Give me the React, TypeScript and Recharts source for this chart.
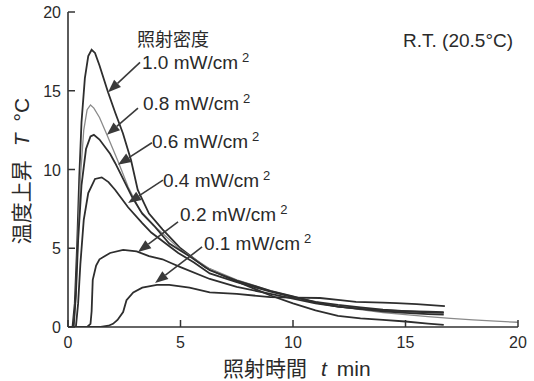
import React from "react";
import {
  LineChart,
  Line,
  XAxis,
  YAxis,
  ReferenceLine,
  ReferenceDot,
  Label,
} from "recharts";

// ---- data (t: min, T: °C) ----
const t10 = [0, 0.2, 0.3, 0.4, 0.5, 0.6, 0.75, 0.9, 1.05, 1.2, 1.4, 1.78, 2.1, 2.44, 2.8, 3.1, 3.6, 4.2, 5, 6.1, 7, 8, 9, 10, 11, 12, 13, 14, 15, 16, 16.7];
const T10 = [0, 0, 1.5, 5, 9.5, 13, 15.8, 17.2, 17.6, 17.4, 16.6, 14.9, 13.6, 12.3, 10.6, 8.7, 7.2, 6.2, 5.0, 3.8, 3.2, 2.6, 2.0, 1.5, 1.05, 0.7, 0.55, 0.45, 0.35, 0.22, 0.13];

const t08 = [0, 0.25, 0.35, 0.45, 0.55, 0.7, 0.85, 1.0, 1.15, 1.4, 1.73, 2.2, 2.67, 3.2, 4.0, 5, 6.3, 7.5, 9, 10, 11, 12, 13, 14, 15, 16, 17, 18, 19, 20];
const T08 = [0, 0, 2, 6, 9.5, 12.5, 13.8, 14.1, 13.9, 13.3, 12.2, 10.6, 8.9, 7.4, 6.2, 4.9, 3.7, 3.0, 2.3, 1.95, 1.6, 1.3, 1.1, 0.92, 0.78, 0.66, 0.55, 0.45, 0.37, 0.3];

const t06 = [0, 0.25, 0.35, 0.45, 0.6, 0.8, 1.0, 1.15, 1.4, 1.87, 2.1, 2.45, 2.85, 3.3, 3.87, 4.5, 5.5, 6.3, 7.5, 9, 10, 11, 12, 13, 14, 15, 16, 16.7];
const T06 = [0, 0, 2, 5.5, 9, 11.3, 12.1, 12.2, 11.9, 11.0, 10.4, 9.4, 8.25, 7.2, 6.35, 5.3, 4.4, 3.6, 2.95, 2.3, 1.95, 1.55, 1.3, 1.15, 1.0, 0.9, 0.82, 0.78];

const t04 = [0, 0.35, 0.45, 0.55, 0.7, 0.9, 1.2, 1.5, 1.8, 2.1, 2.67, 3.3, 3.7, 4.9, 5.6, 6.3, 7.5, 9, 10, 11, 12, 13, 14, 15, 16, 16.7];
const T04 = [0, 0, 1.5, 4, 6.8, 8.5, 9.4, 9.5, 9.2, 8.7, 7.6, 6.6, 6.0, 4.7, 4.1, 3.4, 2.85, 2.25, 1.9, 1.6, 1.4, 1.25, 1.1, 1.0, 0.93, 0.9];

const t02 = [0, 0.85, 1.0, 1.05, 1.1, 1.25, 1.4, 1.87, 2.45, 3.05, 3.6, 4.2, 4.6, 5.0, 6.3, 7.5, 9, 10, 11, 12, 13, 14, 15, 16, 16.7];
const T02 = [0, 0, 0.2, 1, 3, 3.9, 4.3, 4.7, 4.9, 4.8, 4.5, 4.3, 4.05, 3.8, 3.05, 2.55, 2.1, 1.8, 1.5, 1.3, 1.15, 1.05, 1.0, 0.97, 0.95];

const t01 = [0, 1.45, 1.8, 2.0, 2.2, 2.45, 2.6, 2.9, 3.3, 3.95, 4.5, 5.4, 6.3, 7.5, 9, 10, 11.2, 12.1, 12.8, 14, 14.6, 15.5, 16.75];
const T01 = [0, 0, 0.08, 0.2, 0.45, 0.95, 1.7, 2.2, 2.5, 2.67, 2.67, 2.5, 2.2, 2.1, 1.9, 1.87, 1.84, 1.71, 1.6, 1.55, 1.52, 1.45, 1.33];

const xTicks = [0, 5, 10, 15, 20];
const yTicks = [0, 5, 10, 15, 20];

// annotation labels (text) and arrow anchors in data units
const annLabels = ["1.0", "0.8", "0.6", "0.4", "0.2", "0.1"];
const annTextT = [3.29, 3.33, 3.73, 4.22, 4.98, 6.04];
const annTextV = [16.38, 13.78, 11.37, 8.89, 6.73, 4.89];
const arrowFromT = [3.2, 3.11, 3.73, 4.22, 4.89, 5.96];
const arrowFromV = [16.8, 13.9, 11.7, 9.33, 6.67, 5.08];
const arrowToT = [1.78, 1.73, 2.22, 2.67, 3.11, 3.87];
const arrowToV = [14.9, 12.2, 10.3, 7.87, 4.76, 2.79];

const zip = (ts: number[], vs: number[]) => ts.map((t, i) => ({ t, T: vs[i] }));

const series = [
  { name: "1.0", data: zip(t10, T10), color: "#2e2e2e", w: 1.8 },
  { name: "0.8", data: zip(t08, T08), color: "#8a8a8a", w: 1.3 },
  { name: "0.6", data: zip(t06, T06), color: "#2e2e2e", w: 1.8 },
  { name: "0.4", data: zip(t04, T04), color: "#2e2e2e", w: 1.8 },
  { name: "0.2", data: zip(t02, T02), color: "#2e2e2e", w: 1.8 },
  { name: "0.1", data: zip(t01, T01), color: "#2e2e2e", w: 1.8 },
];

const FONT = '"Liberation Sans", Arial, "Noto Sans CJK JP", sans-serif';
const INK = "#2a2a2a";
const AX = "#333";

const BottomTick = (p: any) => (
  <g>
    <line x1={p.x} y1={p.y} x2={p.x} y2={p.y - 7} stroke={AX} strokeWidth={1.5} />
    <text x={p.x} y={p.y + 21} textAnchor="middle" fontSize={16} fontFamily={FONT} fill={INK}>
      {p.payload.value}
    </text>
  </g>
);
const TopTick = (p: any) =>
  p.payload.value === 0 || p.payload.value === 20 ? <g /> : (
    <line x1={p.x} y1={p.y} x2={p.x} y2={p.y + 7} stroke={AX} strokeWidth={1.5} />
  );
const LeftTick = (p: any) => (
  <g>
    <line x1={p.x} y1={p.y} x2={p.x + 7} y2={p.y} stroke={AX} strokeWidth={1.5} />
    <text x={p.x - 7} y={p.y + 6} textAnchor="end" fontSize={16} fontFamily={FONT} fill={INK}>
      {p.payload.value}
    </text>
  </g>
);
const RightTick = (p: any) =>
  p.payload.value === 0 || p.payload.value === 20 ? <g /> : (
    <line x1={p.x} y1={p.y} x2={p.x - 7} y2={p.y} stroke={AX} strokeWidth={1.5} />
  );

const Arrow = (p: any) => {
  const { x1, y1, x2, y2 } = p;
  if (x1 == null) return <g />;
  const dx = x2 - x1;
  const dy = y2 - y1;
  const len = Math.sqrt(dx * dx + dy * dy);
  const ux = dx / len;
  const uy = dy / len;
  const hl = 13;
  const hw = 5;
  const bx = x2 - ux * hl;
  const by = y2 - uy * hl;
  const pts = `${x2},${y2} ${bx - uy * hw},${by + ux * hw} ${bx + uy * hw},${by - ux * hw}`;
  return (
    <g>
      <line x1={x1} y1={y1} x2={bx} y2={by} stroke="#3a3a3a" strokeWidth={1.6} />
      <polygon points={pts} fill="#3a3a3a" />
    </g>
  );
};

const makeTextShape = (label: string) => (p: any) => (
  <text x={p.cx} y={p.cy} fontSize={19} fontFamily={FONT} fill={INK}>
    {label} mW/cm
    <tspan dx={4} dy={-7} fontSize={13}>2</tspan>
  </text>
);

const TitleShape = (p: any) => (
  <text x={p.cx} y={p.cy} fontSize={18} fontFamily={FONT} fill={INK}>
    照射密度
  </text>
);
const RTShape = (p: any) => (
  <text x={p.cx} y={p.cy} fontSize={19} fontFamily={FONT} fill={INK} textAnchor="end">
    R.T. (20.5°C)
  </text>
);

const XTitle = (p: any) => {
  const vb = p.viewBox || { x: 68, y: 327 };
  return (
    <text x={vb.x + 155} y={vb.y + 49} fontSize={21} fontFamily={FONT} fill={INK}>
      照射時間
      <tspan dx={14} fontStyle="italic">t</tspan>
      <tspan dx={10}>min</tspan>
    </text>
  );
};
const YTitle = (p: any) => {
  const vb = p.viewBox || { x: 0, y: 12, height: 315 };
  const cx = vb.x + 29;
  const cy = 171;
  return (
    <text
      x={cx}
      y={cy}
      fontSize={21}
      fontFamily={FONT}
      fill={INK}
      textAnchor="middle"
      transform={`rotate(-90 ${cx} ${cy})`}
    >
      温度上昇
      <tspan dx={14} fontStyle="italic">T</tspan>
      <tspan dx={12}>°C</tspan>
    </text>
  );
};

export default function App() {
  return (
    <div style={{ position: "absolute", left: 0, top: 0, background: "#fff" }}>
      <LineChart width={534} height={381} margin={{ top: 12, right: 16, bottom: 0, left: 0 }}>
        <XAxis
          dataKey="t"
          type="number"
          domain={[0, 20]}
          ticks={xTicks}
          interval={0}
          allowDataOverflow
          height={54}
          tickSize={0}
          tickMargin={0}
          tickLine={false}
          axisLine={{ stroke: AX, strokeWidth: 1.6 }}
          tick={<BottomTick />}
        >
          <Label content={<XTitle />} />
        </XAxis>
        <XAxis
          xAxisId="top"
          orientation="top"
          dataKey="t"
          type="number"
          domain={[0, 20]}
          ticks={xTicks}
          interval={0}
          height={0}
          tickSize={0}
          tickMargin={0}
          tickLine={false}
          axisLine={{ stroke: AX, strokeWidth: 1.6 }}
          tick={<TopTick />}
        />
        <YAxis
          type="number"
          domain={[0, 20]}
          ticks={yTicks}
          interval={0}
          allowDataOverflow
          width={68}
          tickSize={0}
          tickMargin={0}
          tickLine={false}
          axisLine={{ stroke: AX, strokeWidth: 1.6 }}
          tick={<LeftTick />}
        >
          <Label content={<YTitle />} />
        </YAxis>
        <YAxis
          yAxisId="right"
          orientation="right"
          type="number"
          domain={[0, 20]}
          ticks={yTicks}
          interval={0}
          width={0}
          tickSize={0}
          tickMargin={0}
          tickLine={false}
          axisLine={{ stroke: AX, strokeWidth: 1.6 }}
          tick={<RightTick />}
        />
        {series.map((s) => (
          <Line
            key={s.name}
            data={s.data}
            dataKey="T"
            type="linear"
            stroke={s.color}
            strokeWidth={s.w}
            dot={false}
            isAnimationActive={false}
          />
        ))}
        {annLabels.map((lab, i) => (
          <ReferenceLine
            key={"a" + lab}
            segment={[
              { x: arrowFromT[i], y: arrowFromV[i] },
              { x: arrowToT[i], y: arrowToV[i] },
            ]}
            ifOverflow="visible"
            shape={Arrow}
          />
        ))}
        {annLabels.map((lab, i) => (
          <ReferenceDot
            key={"d" + lab}
            x={annTextT[i]}
            y={annTextV[i]}
            r={0}
            ifOverflow="visible"
            shape={makeTextShape(lab)}
          />
        ))}
        <ReferenceDot x={3.07} y={17.84} r={0} ifOverflow="visible" shape={TitleShape} />
        <ReferenceDot x={19.78} y={17.78} r={0} ifOverflow="visible" shape={RTShape} />
      </LineChart>
    </div>
  );
}
